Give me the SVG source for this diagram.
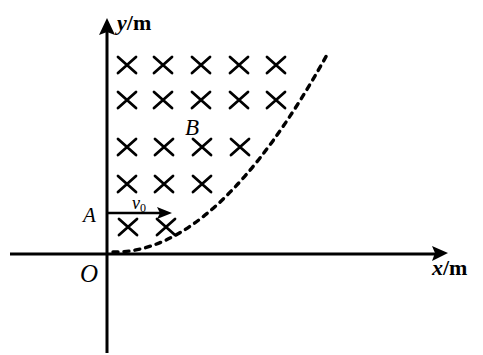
<svg xmlns="http://www.w3.org/2000/svg" width="483" height="355" viewBox="0 0 483 355">
<defs>
<style>
.ax{stroke:#000;stroke-width:3;fill:none}
.cr{stroke:#000;stroke-width:2.8;fill:none;stroke-linecap:round}
.cv{stroke:#000;stroke-width:3.4;fill:none;stroke-dasharray:5 6;stroke-linecap:round}
.lb{font-family:"Liberation Serif",serif;fill:#000}
</style>
<g id="cx"><path class="cr" d="M-9,-8 L9,8 M-9,8 L9,-8"/></g>
</defs>
<rect width="483" height="355" fill="#fff"/>
<g id="axes">
<line class="ax" x1="10" y1="254" x2="435" y2="254"/>
<polygon points="448,253 432,246 435,253 432,261" fill="#000"/>
<line class="ax" x1="107" y1="32" x2="107" y2="353"/>
<polygon points="107,18 99,35 107,32 115,35" fill="#000"/>
</g>
<g id="field">
<use href="#cx" x="127" y="65"/><use href="#cx" x="163" y="65"/><use href="#cx" x="201" y="65"/><use href="#cx" x="239" y="65"/><use href="#cx" x="276" y="65"/>
<use href="#cx" x="127" y="100"/><use href="#cx" x="163" y="100"/><use href="#cx" x="201" y="100"/><use href="#cx" x="239" y="100"/><use href="#cx" x="276" y="100"/>
<use href="#cx" x="127" y="147"/><use href="#cx" x="164" y="147"/><use href="#cx" x="202" y="147"/><use href="#cx" x="240" y="147"/>
<use href="#cx" x="127" y="184"/><use href="#cx" x="164" y="184"/><use href="#cx" x="202" y="184"/>
<use href="#cx" x="128" y="227"/><use href="#cx" x="166" y="227"/>
</g>
<g id="boundary">
<path class="cv" d="M113,252 Q217,254 328,53"/>
</g>
<g id="connectors">
<line x1="107" y1="213" x2="160" y2="213" stroke="#000" stroke-width="2.5"/>
<polygon points="172,213 157,207 160,213 157,219" fill="#000"/>
</g>
<g id="labels">
<text class="lb" x="117" y="30" font-size="22" font-weight="bold"><tspan font-style="italic">y</tspan>/m</text>
<text class="lb" x="432" y="275" font-size="22" font-weight="bold"><tspan font-style="italic">x</tspan>/m</text>
<text class="lb" x="185" y="135" font-size="23" font-style="italic">B</text>
<text class="lb" x="83" y="222" font-size="21" font-style="italic">A</text>
<text class="lb" x="80" y="282" font-size="25" font-style="italic">O</text>
<text class="lb" x="132" y="209" font-size="18" font-style="italic">v<tspan font-size="12" dy="3" font-style="normal">0</tspan></text>
</g>
</svg>
